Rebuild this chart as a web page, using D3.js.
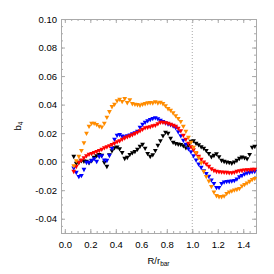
<!DOCTYPE html>
<html><head><meta charset="utf-8">
<script src="https://cdn.jsdelivr.net/npm/d3@7"></script>
<style>body{margin:0;background:#fff}svg{display:block}text{font-family:"Liberation Sans",Arial,Helvetica,sans-serif}</style>
</head><body><svg id="c" width="274" height="274"></svg>
<script>
const radius = [0.07,0.09,0.11,0.13,0.15,0.17,0.19,0.21,0.23,0.25,
0.27,0.29,0.31,0.33,0.35,0.37,0.39,0.41,0.43,0.45,
0.47,0.49,0.51,0.53,0.55,0.57,0.59,0.61,0.63,0.65,
0.67,0.69,0.71,0.73,0.75,0.77,0.79,0.81,0.83,0.85,
0.87,0.89,0.91,0.93,0.95,0.97,0.99,1.01,1.03,1.05,
1.07,1.09,1.11,1.13,1.15,1.17,1.19,1.21,1.23,1.25,
1.27,1.29,1.31,1.33,1.35,1.37,1.39,1.41,1.43,1.45,
1.47,1.49];
const b4Black = [0.0035,-0.0014,-0.0007,0.0004,0.0002,0.0000,-0.0010,0.0004,0.0028,0.0039,
0.0049,0.0042,-0.0007,-0.0035,0.0046,0.0074,0.0095,0.0101,0.0088,0.0063,
0.0021,0.0028,0.0049,0.0060,0.0070,0.0085,0.0106,0.0120,0.0092,0.0056,
0.0035,0.0046,0.0077,0.0113,0.0144,0.0180,0.0204,0.0197,0.0162,0.0134,
0.0125,0.0121,0.0118,0.0110,0.0095,0.0113,0.0141,0.0144,0.0127,0.0116,
0.0102,0.0092,0.0077,0.0056,0.0032,0.0042,0.0053,0.0032,0.0007,0.0000,
-0.0005,-0.0008,-0.0012,-0.0004,0.0007,0.0021,0.0030,0.0025,0.0019,0.0049,
0.0099,0.0106];
const b4Orange = [-0.0030,0.0004,0.0035,0.0077,0.0130,0.0197,0.0246,0.0268,0.0268,0.0258,
0.0246,0.0241,0.0268,0.0310,0.0349,0.0384,0.0401,0.0425,0.0435,0.0420,
0.0440,0.0412,0.0432,0.0405,0.0400,0.0398,0.0394,0.0400,0.0405,0.0410,
0.0412,0.0410,0.0418,0.0410,0.0414,0.0405,0.0390,0.0370,0.0359,0.0340,
0.0320,0.0300,0.0280,0.0246,0.0211,0.0169,0.0134,0.0099,0.0063,0.0025,
-0.0010,-0.0070,-0.0106,-0.0137,-0.0176,-0.0215,-0.0240,-0.0247,-0.0247,-0.0243,
-0.0225,-0.0215,-0.0208,-0.0200,-0.0196,-0.0190,-0.0173,-0.0162,-0.0151,-0.0140,
-0.0127,-0.0120];
const b4Red = [-0.0070,-0.0035,-0.0007,0.0010,0.0025,0.0039,0.0050,0.0056,0.0063,0.0070,
0.0077,0.0085,0.0095,0.0102,0.0110,0.0118,0.0127,0.0137,0.0144,0.0155,
0.0165,0.0173,0.0180,0.0187,0.0195,0.0204,0.0215,0.0225,0.0236,0.0240,
0.0243,0.0250,0.0254,0.0264,0.0275,0.0275,0.0271,0.0268,0.0260,0.0254,
0.0246,0.0232,0.0215,0.0183,0.0155,0.0127,0.0102,0.0081,0.0056,0.0035,
0.0014,-0.0004,-0.0018,-0.0035,-0.0051,-0.0063,-0.0070,-0.0073,-0.0075,-0.0076,
-0.0077,-0.0079,-0.0079,-0.0076,-0.0070,-0.0065,-0.0063,-0.0061,-0.0058,-0.0058,
-0.0056,-0.0056];
const b4Blue = [-0.0046,-0.0077,-0.0106,-0.0099,-0.0056,-0.0007,-0.0006,0.0007,0.0018,0.0000,
0.0035,0.0039,0.0010,0.0007,0.0042,0.0092,0.0155,0.0183,0.0188,0.0177,
0.0173,0.0180,0.0185,0.0194,0.0201,0.0211,0.0239,0.0260,0.0275,0.0285,
0.0294,0.0301,0.0306,0.0299,0.0289,0.0280,0.0270,0.0263,0.0257,0.0249,
0.0236,0.0208,0.0180,0.0148,0.0120,0.0088,0.0067,0.0039,0.0010,-0.0018,
-0.0042,-0.0065,-0.0085,-0.0104,-0.0130,-0.0155,-0.0183,-0.0183,-0.0155,-0.0144,
-0.0141,-0.0140,-0.0137,-0.0134,-0.0123,-0.0108,-0.0099,-0.0088,-0.0082,-0.0077,
-0.0073,-0.0070];
const xTicks = [0.0,0.2,0.4,0.6,0.8,1.0,1.2,1.4];
const yTicks = [-0.04,-0.02,0.00,0.02,0.04,0.06,0.08,0.10];
const xMinor = [0.00,0.05,0.10,0.15,0.20,0.25,0.30,0.35,0.40,0.45,0.50,0.55,0.60,0.65,0.70,0.75,0.80,0.85,0.90,0.95,1.00,1.05,1.10,1.15,1.20,1.25,1.30,1.35,1.40,1.45,1.50];
const yMinor = [-0.050,-0.045,-0.040,-0.035,-0.030,-0.025,-0.020,-0.015,-0.010,-0.005,0.000,0.005,0.010,0.015,0.020,0.025,0.030,0.035,0.040,0.045,0.050,0.055,0.060,0.065,0.070,0.075,0.080,0.085,0.090,0.095,0.100];
const refLine = 1.0;

const series = [
  {name:"black", color:"#000000", values:b4Black},
  {name:"blue", color:"#0000ff", values:b4Blue},
  {name:"red", color:"#ff0000", values:b4Red},
  {name:"orange", color:"#ff8c00", values:b4Orange}
];

const L=61, R=256, T=19, B=233;
const x = d3.scaleLinear().domain([-0.03,1.5]).range([L,R]);
const y = d3.scaleLinear().domain([-0.05,0.10]).range([B,T]);
const svg = d3.select("#c");
const axisColor = "#aaaaaa";
const fs = 9.5;

function styleAxis(g){
  g.select(".domain").remove();
  g.selectAll(".tick line").attr("stroke",axisColor).attr("stroke-width",1);
  g.selectAll(".tick text").attr("fill","#000").style("font-size",fs+"px").style("font-family",'"Liberation Sans",Arial,sans-serif');
}
// minor ticks
svg.append("g").attr("transform",`translate(0,${B})`).call(d3.axisBottom(x).tickValues(xMinor).tickSize(-2).tickFormat("")).call(styleAxis);
svg.append("g").attr("transform",`translate(0,${T})`).call(d3.axisTop(x).tickValues(xMinor).tickSize(-2).tickFormat("")).call(styleAxis);
svg.append("g").attr("transform",`translate(${L},0)`).call(d3.axisLeft(y).tickValues(yMinor).tickSize(-2).tickFormat("")).call(styleAxis);
svg.append("g").attr("transform",`translate(${R},0)`).call(d3.axisRight(y).tickValues(yMinor).tickSize(-2).tickFormat("")).call(styleAxis);
// major ticks
svg.append("g").attr("transform",`translate(0,${B})`).call(d3.axisBottom(x).tickValues(xTicks).tickSize(-4).tickPadding(8).tickFormat(d=>d.toFixed(1))).call(styleAxis);
svg.append("g").attr("transform",`translate(0,${T})`).call(d3.axisTop(x).tickValues(xTicks).tickSize(-4).tickFormat("")).call(styleAxis);
svg.append("g").attr("transform",`translate(${L},0)`).call(d3.axisLeft(y).tickValues(yTicks).tickSize(-4).tickPadding(4).tickFormat(d=>d.toFixed(2))).call(styleAxis);
svg.append("g").attr("transform",`translate(${R},0)`).call(d3.axisRight(y).tickValues(yTicks).tickSize(-4).tickFormat("")).call(styleAxis);

// frame
svg.append("rect").attr("x",L).attr("y",T).attr("width",R-L).attr("height",B-T)
  .attr("fill","none").attr("stroke",axisColor).attr("stroke-width",1).attr("shape-rendering","crispEdges");

// reference dotted line
svg.append("line").attr("x1",x(refLine)).attr("x2",x(refLine)).attr("y1",T).attr("y2",B)
  .attr("stroke",axisColor).attr("stroke-dasharray","1,2");

// markers
const tri = "M-2.4,-1.8L2.4,-1.8L0,2.5Z";
series.forEach(s=>{
  svg.append("g").selectAll("path").data(radius.map((r,i)=>[r,s.values[i]])).join("path")
    .attr("d",tri).attr("fill",s.color)
    .attr("transform",d=>`translate(${x(d[0])},${y(d[1])})`);
});

// axis titles
svg.append("text").attr("x",(L+R)/2).attr("y",264).attr("text-anchor","middle").style("font-size",fs+"px")
  .text("R/r").append("tspan").attr("dy",2).style("font-size","6.5px").text("bar");
svg.append("text").attr("transform",`translate(21,${(T+B)/2}) rotate(-90)`).attr("text-anchor","middle").style("font-size",fs+"px")
  .text("b").append("tspan").attr("dy",2).style("font-size","6.5px").text("4");
</script></body></html>
